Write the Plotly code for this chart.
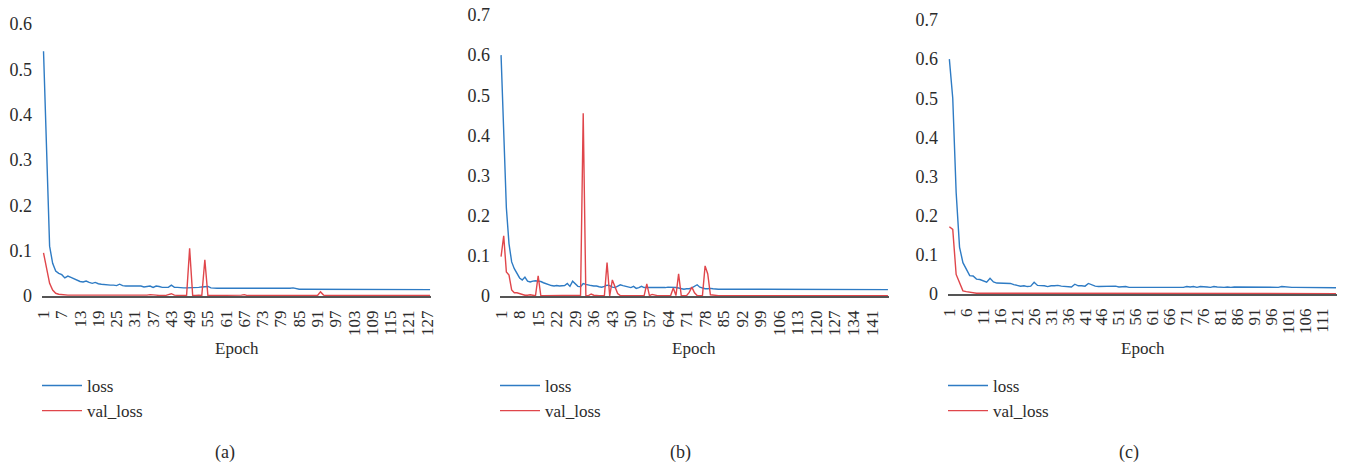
import plotly.graph_objects as go

# ---------------- data ----------------
# (a)
LOSS_A = [
    0.540, 0.300, 0.110, 0.072, 0.055, 0.050, 0.047, 0.040, 0.044, 0.041,
    0.038, 0.036, 0.032, 0.031, 0.033, 0.030, 0.028, 0.030, 0.027, 0.026,
    0.025, 0.025, 0.024, 0.024, 0.023, 0.026, 0.023, 0.022, 0.022, 0.022,
    0.021, 0.021, 0.022, 0.020, 0.021, 0.022, 0.019, 0.022, 0.021, 0.019,
    0.019, 0.019, 0.024, 0.019, 0.019, 0.018, 0.018, 0.018, 0.018, 0.018,
    0.018, 0.019, 0.020, 0.021, 0.021, 0.018, 0.017, 0.017, 0.017, 0.017,
    0.017, 0.016, 0.016, 0.016, 0.016, 0.017, 0.016, 0.016, 0.016, 0.016,
    0.016, 0.016, 0.016, 0.016, 0.016, 0.016, 0.016, 0.016, 0.016, 0.016,
    0.016, 0.017, 0.018, 0.016, 0.015, 0.015, 0.015, 0.015, 0.015, 0.015,
    0.015, 0.015, 0.015, 0.015, 0.015, 0.015, 0.015, 0.015, 0.015, 0.015,
    0.015, 0.015, 0.015, 0.015, 0.015, 0.014, 0.014, 0.015, 0.015, 0.015,
    0.015, 0.015, 0.015, 0.015, 0.014, 0.014, 0.014, 0.014, 0.014, 0.014,
    0.014, 0.014, 0.014, 0.014, 0.014, 0.014, 0.014, 0.014,
]
VAL_A = [
    0.095, 0.060, 0.028, 0.013, 0.006, 0.004, 0.003, 0.003, 0.002, 0.002,
    0.002, 0.002, 0.002, 0.001, 0.002, 0.001, 0.001, 0.001, 0.001, 0.001,
    0.001, 0.001, 0.001, 0.001, 0.001, 0.001, 0.001, 0.001, 0.001, 0.001,
    0.001, 0.001, 0.002, 0.001, 0.002, 0.003, 0.003, 0.002, 0.001, 0.001,
    0.001, 0.003, 0.005, 0.002, 0.001, 0.001, 0.001, 0.001, 0.105, 0.001,
    0.001, 0.002, 0.001, 0.080, 0.001, 0.001, 0.001, 0.001, 0.002, 0.001,
    0.001, 0.001, 0.001, 0.001, 0.001, 0.002, 0.003, 0.001, 0.001, 0.001,
    0.001, 0.001, 0.001, 0.001, 0.001, 0.001, 0.001, 0.001, 0.001, 0.001,
    0.001, 0.001, 0.002, 0.001, 0.001, 0.001, 0.001, 0.001, 0.001, 0.001,
    0.001, 0.009, 0.002, 0.001, 0.001, 0.001, 0.001, 0.001, 0.001, 0.001,
    0.001, 0.001, 0.001, 0.001, 0.001, 0.001, 0.001, 0.001, 0.001, 0.001,
    0.001, 0.001, 0.001, 0.001, 0.001, 0.001, 0.001, 0.001, 0.001, 0.001,
    0.001, 0.001, 0.001, 0.001, 0.001, 0.001, 0.001, 0.001,
]
TICKS_A = [1, 7, 13, 19, 25, 31, 37, 43, 49, 55, 61, 67, 73, 79, 85, 91,
           97, 103, 109, 115, 121, 127]

# (b)
LOSS_B = [
    0.600, 0.420, 0.220, 0.130, 0.085, 0.068, 0.058, 0.045, 0.040, 0.047,
    0.037, 0.035, 0.037, 0.038, 0.037, 0.036, 0.033, 0.030, 0.028, 0.026,
    0.025, 0.026, 0.025, 0.025, 0.026, 0.031, 0.024, 0.037, 0.030, 0.024,
    0.023, 0.031, 0.029, 0.027, 0.026, 0.025, 0.025, 0.023, 0.022, 0.024,
    0.027, 0.026, 0.022, 0.021, 0.025, 0.028, 0.026, 0.024, 0.022, 0.021,
    0.024, 0.019, 0.021, 0.024, 0.021, 0.021, 0.020, 0.020, 0.021, 0.020,
    0.021, 0.020, 0.021, 0.022, 0.022, 0.022, 0.021, 0.020, 0.018, 0.017,
    0.018, 0.018, 0.020, 0.025, 0.028, 0.022, 0.019, 0.018, 0.018, 0.019,
    0.018, 0.017, 0.017, 0.017, 0.017, 0.017, 0.017, 0.017, 0.017, 0.017,
    0.017, 0.017, 0.017, 0.017, 0.017, 0.017, 0.017, 0.017, 0.017, 0.017,
    0.017, 0.017, 0.017, 0.017, 0.017, 0.017, 0.017, 0.016, 0.016, 0.016,
    0.016, 0.016, 0.016, 0.016, 0.016, 0.016, 0.016, 0.016, 0.016, 0.016,
    0.016, 0.016, 0.016, 0.016, 0.016, 0.016, 0.016, 0.016, 0.016, 0.016,
    0.016, 0.016, 0.016, 0.016, 0.016, 0.016, 0.016, 0.016, 0.016, 0.016,
    0.016, 0.016, 0.016, 0.016, 0.016, 0.016, 0.016,
]
VAL_B = [
    0.098, 0.150, 0.060, 0.052, 0.015, 0.008, 0.008, 0.006, 0.003, 0.002,
    0.002, 0.003, 0.002, 0.001, 0.050, 0.001, 0.001, 0.001, 0.001, 0.001,
    0.001, 0.001, 0.001, 0.002, 0.001, 0.001, 0.001, 0.001, 0.001, 0.001,
    0.002, 0.455, 0.001, 0.001, 0.005, 0.002, 0.001, 0.001, 0.001, 0.001,
    0.083, 0.000, 0.040, 0.022, 0.006, 0.001, 0.001, 0.001, 0.001, 0.001,
    0.001, 0.001, 0.001, 0.001, 0.001, 0.030, 0.001, 0.004, 0.002, 0.001,
    0.001, 0.001, 0.001, 0.001, 0.001, 0.020, 0.001, 0.055, 0.001, 0.001,
    0.001, 0.009, 0.022, 0.008, 0.001, 0.001, 0.001, 0.075, 0.055, 0.003,
    0.002, 0.001, 0.001, 0.001, 0.001, 0.001, 0.001, 0.001, 0.001, 0.001,
    0.001, 0.001, 0.001, 0.001, 0.001, 0.001, 0.001, 0.001, 0.001, 0.001,
    0.001, 0.001, 0.001, 0.001, 0.001, 0.001, 0.001, 0.001, 0.001, 0.001,
    0.001, 0.001, 0.001, 0.001, 0.001, 0.001, 0.001, 0.001, 0.001, 0.001,
    0.001, 0.001, 0.001, 0.001, 0.001, 0.001, 0.001, 0.001, 0.001, 0.001,
    0.001, 0.001, 0.001, 0.001, 0.001, 0.001, 0.001, 0.001, 0.001, 0.001,
    0.001, 0.001, 0.001, 0.001, 0.001, 0.001, 0.001,
]
TICKS_B = [1, 8, 15, 22, 29, 36, 43, 50, 57, 64, 71, 78, 85, 92, 99, 106,
           113, 120, 127, 134, 141]

# (c)
LOSS_C = [
    0.600, 0.500, 0.260, 0.120, 0.080, 0.062, 0.047, 0.046, 0.038, 0.037,
    0.033, 0.030, 0.040, 0.031, 0.028, 0.028, 0.028, 0.028, 0.027, 0.024,
    0.021, 0.020, 0.021, 0.019, 0.020, 0.030, 0.022, 0.022, 0.021, 0.019,
    0.021, 0.021, 0.022, 0.020, 0.019, 0.019, 0.018, 0.025, 0.021, 0.021,
    0.020, 0.027, 0.023, 0.020, 0.019, 0.019, 0.019, 0.019, 0.020, 0.020,
    0.018, 0.019, 0.019, 0.017, 0.017, 0.017, 0.017, 0.017, 0.017, 0.017,
    0.017, 0.017, 0.016, 0.016, 0.016, 0.016, 0.016, 0.016, 0.016, 0.017,
    0.019, 0.018, 0.019, 0.017, 0.019, 0.019, 0.018, 0.017, 0.019, 0.018,
    0.017, 0.017, 0.018, 0.017, 0.018, 0.018, 0.017, 0.017, 0.017, 0.017,
    0.017, 0.017, 0.017, 0.017, 0.017, 0.017, 0.017, 0.017, 0.019, 0.018,
    0.017, 0.017, 0.017, 0.017, 0.016, 0.016, 0.016, 0.016, 0.016, 0.016,
    0.016, 0.016, 0.016, 0.016, 0.016,
]
VAL_C = [
    0.172, 0.165, 0.050, 0.030, 0.008, 0.006, 0.004, 0.003, 0.002, 0.002,
    0.002, 0.002, 0.002, 0.002, 0.002, 0.002, 0.002, 0.001, 0.001, 0.001,
    0.001, 0.001, 0.001, 0.001, 0.001, 0.001, 0.001, 0.001, 0.001, 0.001,
    0.001, 0.001, 0.001, 0.001, 0.001, 0.001, 0.001, 0.002, 0.001, 0.001,
    0.001, 0.001, 0.001, 0.001, 0.001, 0.001, 0.001, 0.001, 0.001, 0.001,
    0.001, 0.001, 0.001, 0.001, 0.001, 0.001, 0.001, 0.001, 0.001, 0.001,
    0.001, 0.001, 0.001, 0.001, 0.001, 0.001, 0.001, 0.001, 0.001, 0.001,
    0.001, 0.001, 0.001, 0.001, 0.001, 0.001, 0.001, 0.001, 0.001, 0.001,
    0.001, 0.001, 0.001, 0.001, 0.001, 0.001, 0.001, 0.001, 0.001, 0.001,
    0.001, 0.001, 0.001, 0.001, 0.001, 0.001, 0.001, 0.001, 0.001, 0.001,
    0.001, 0.001, 0.001, 0.001, 0.001, 0.001, 0.001, 0.001, 0.001, 0.001,
    0.001, 0.001, 0.001, 0.001, 0.001,
]
TICKS_C = [1, 6, 11, 16, 21, 26, 31, 36, 41, 46, 51, 56, 61, 66, 71, 76,
           81, 86, 91, 96, 101, 106, 111]

Y_TICKS_A = [0, 0.1, 0.2, 0.3, 0.4, 0.5, 0.6]
Y_TICKS_BC = [0, 0.1, 0.2, 0.3, 0.4, 0.5, 0.6, 0.7]
PANEL_LABELS = ["(a)", "(b)", "(c)"]
SERIES_NAMES = ["loss", "val_loss"]

# ---------------- styling ----------------
W, H = 1347, 469
FONT = "Liberation Serif"
TEXT = "#2b2b2b"
BLUE = "#2E7BC4"
RED = "#E0464B"
AXIS = "#555555"
FS = 17


def px_x(p):
    return p / W


def px_y(p):
    return 1 - p / H


panels = [
    dict(loss=LOSS_A, val=VAL_A, ticks=TICKS_A, yt=Y_TICKS_A, ymax=0.6,
         x0=42, x1=431, ytop=24, ybot=296, xr=(0.5, 128.3), lab_x=225),
    dict(loss=LOSS_B, val=VAL_B, ticks=TICKS_B, yt=Y_TICKS_BC, ymax=0.7,
         x0=500, x1=889, ytop=15, ybot=296, xr=(0.6, 147.4), lab_x=680),
    dict(loss=LOSS_C, val=VAL_C, ticks=TICKS_C, yt=Y_TICKS_BC, ymax=0.7,
         x0=948, x1=1337, ytop=20, ybot=294, xr=(0.6, 115.3), lab_x=1129),
]

fig = go.Figure()
layout = dict(
    width=W, height=H,
    margin=dict(l=0, r=0, t=0, b=0, autoexpand=False),
    paper_bgcolor="white", plot_bgcolor="white",
    font=dict(family=FONT, size=FS, color=TEXT),
    annotations=[],
)

for i, p in enumerate(panels):
    n = i + 1
    xa = "x" if n == 1 else f"x{n}"
    ya = "y" if n == 1 else f"y{n}"
    lg = "legend" if n == 1 else f"legend{n}"
    epochs = list(range(1, len(p["loss"]) + 1))
    for name, vals, color in ((SERIES_NAMES[0], p["loss"], BLUE),
                              (SERIES_NAMES[1], p["val"], RED)):
        fig.add_trace(go.Scatter(
            x=epochs, y=vals, mode="lines", name=name,
            line=dict(color=color, width=1.4),
            xaxis=xa, yaxis=ya, legend=lg, legendgroup=f"{lg}-{name}",
        ))

    xkey = "xaxis" if n == 1 else f"xaxis{n}"
    ykey = "yaxis" if n == 1 else f"yaxis{n}"
    layout[xkey] = dict(
        domain=[px_x(p["x0"]), px_x(p["x1"])], range=list(p["xr"]),
        anchor=ya, tickmode="array", tickvals=p["ticks"],
        ticktext=[str(t) for t in p["ticks"]], tickangle=-90,
        showline=True, linecolor=AXIS, linewidth=1.6, showgrid=False,
        zeroline=False, ticks="", ticklabelstandoff=6, automargin=False,
        tickfont=dict(family=FONT, size=FS, color=TEXT), fixedrange=True,
    )
    layout[ykey] = dict(
        domain=[px_y(p["ybot"]), px_y(p["ytop"])], range=[0, p["ymax"]],
        anchor=xa, tickmode="array", tickvals=p["yt"],
        ticktext=["0" if v == 0 else f"{v:.1f}" for v in p["yt"]],
        showline=False, showgrid=False, zeroline=False, ticks="",
        ticklabelstandoff=9, automargin=False,
        tickfont=dict(family=FONT, size=FS + 1, color=TEXT), fixedrange=True,
    )
    layout[lg] = dict(
        x=px_x(p["x0"] - 5), y=px_y(368), xanchor="left", yanchor="top",
        orientation="v", bgcolor="rgba(0,0,0,0)", borderwidth=0,
        font=dict(family=FONT, size=FS, color=TEXT),
        itemwidth=40, tracegroupgap=0,
    )
    layout["annotations"].append(dict(
        text="Epoch", xref="paper", yref="paper",
        x=px_x((p["x0"] + p["x1"]) / 2), y=px_y(348),
        xanchor="center", yanchor="middle", showarrow=False,
        font=dict(family=FONT, size=FS, color=TEXT),
    ))
    layout["annotations"].append(dict(
        text=PANEL_LABELS[i], xref="paper", yref="paper",
        x=px_x(p["lab_x"]), y=px_y(452),
        xanchor="center", yanchor="middle", showarrow=False,
        font=dict(family=FONT, size=FS + 1, color=TEXT),
    ))

fig.update_layout(**layout)
fig.write_html("out.html")
